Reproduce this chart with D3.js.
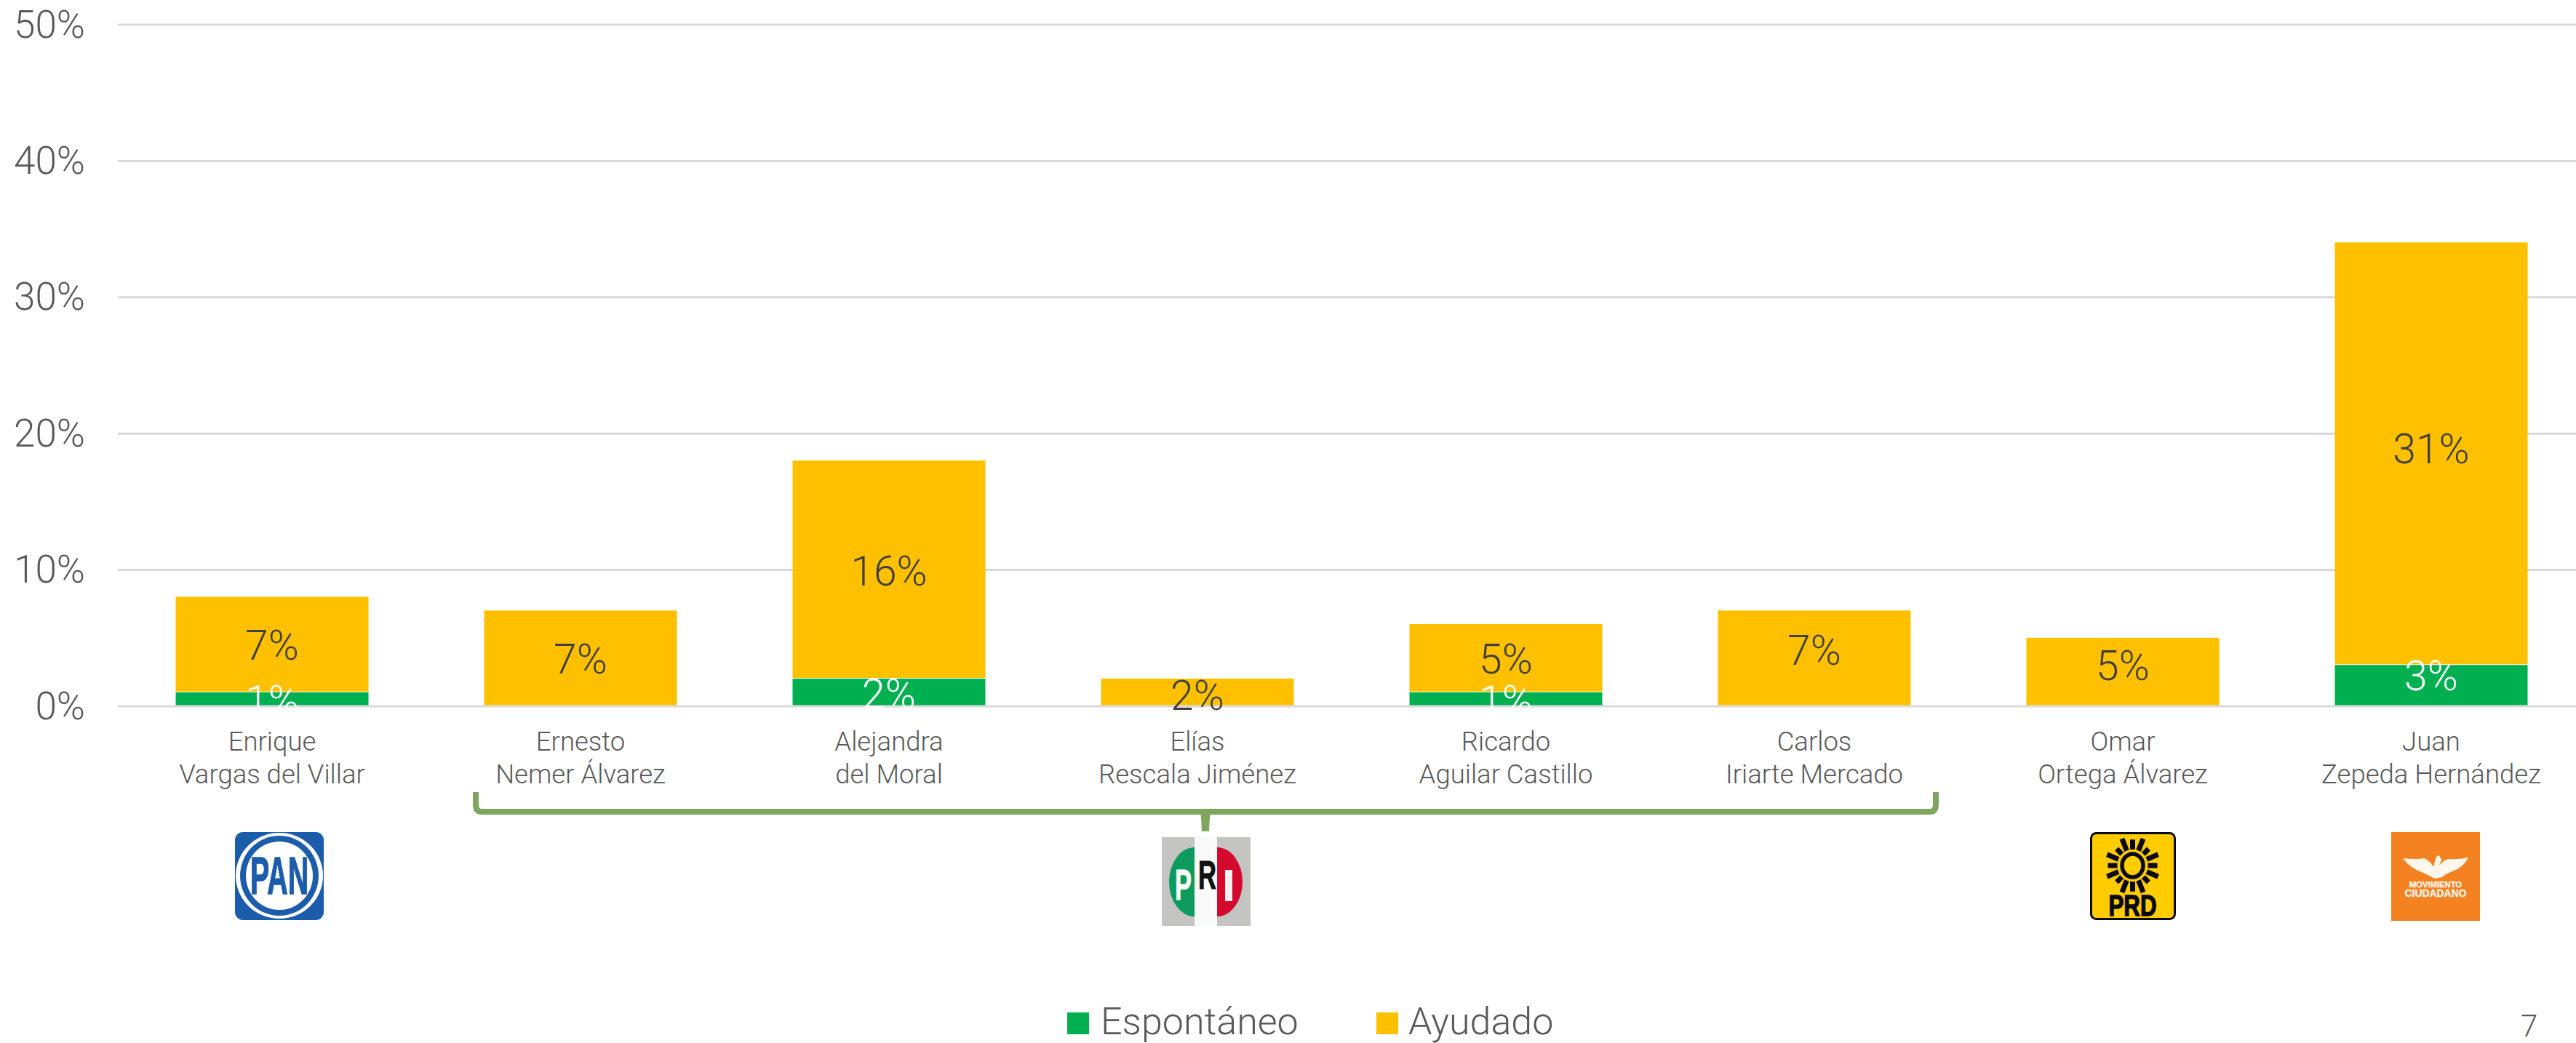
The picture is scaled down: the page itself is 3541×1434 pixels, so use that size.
<!DOCTYPE html>
<html><head><meta charset="utf-8">
<script src="https://cdn.jsdelivr.net/npm/d3@7/dist/d3.min.js"></script>
<style>
html,body{margin:0;padding:0;background:#fff;overflow:hidden}
svg{display:block}
text{font-family:Roboto,"Liberation Sans",sans-serif;font-weight:300}
</style></head><body>
<svg id="c" width="3541" height="1434"></svg>
<script>
const categories=[["Enrique","Vargas del Villar"],["Ernesto","Nemer Álvarez"],["Alejandra","del Moral"],["Elías","Rescala Jiménez"],["Ricardo","Aguilar Castillo"],["Carlos","Iriarte Mercado"],["Omar","Ortega Álvarez"],["Juan","Zepeda Hernández"]];
const espontaneo=[1,0,2,0,1,0,0,3];
const ayudado=[7,7,16,2,5,7,5,31];
const yTicks=[0,10,20,30,40,50];
const seriesNames=["Espontáneo","Ayudado"];
const seriesColors=["#00B050","#FFC000"];
const pageNumber="7";
// manual label nudges seen in the reference (pixels), per series and category
const nudgeEsp=[1,0,2,0,1,0,0,-14];
const nudgeAyu=[0,1,1,4,1,-11,-9,-7];

const svg=d3.select("#c");
const W=3541,H=1434,L=162,T=33.5,B=970.5,STEP=424;
const x=d3.scaleBand().domain(d3.range(categories.length)).range([L,L+STEP*categories.length]).paddingInner(0.375).paddingOuter(0.1875);
const y=d3.scaleLinear().domain([0,50]).range([B,T]);

const ya=svg.append("g").attr("transform",`translate(${L},0)`)
 .call(d3.axisLeft(y).tickValues(yTicks).tickFormat(d=>d+"%").tickSize(-(W-L)).tickPadding(45));
ya.select(".domain").remove();
ya.selectAll("line").attr("stroke","#D9D9D9").attr("stroke-width",3);
ya.selectAll("text").attr("font-size",53).attr("fill","#595959").attr("dy",".33em");

const rows=categories.map((c,i)=>({i,e:espontaneo[i],a:ayudado[i]}));
const stack=d3.stack().keys(["e","a"])(rows);
const barG=svg.append("g");
stack.forEach((s,k)=>{
  barG.selectAll(null).data(s).join("rect")
   .attr("x",d=>x(d.data.i)).attr("width",x.bandwidth())
   .attr("y",d=>y(d[1])).attr("height",d=>y(d[0])-y(d[1])-1)
   .attr("fill",seriesColors[k]);
});
const labG=svg.append("g");
stack.forEach((s,k)=>{
  const nudge=k==0?nudgeEsp:nudgeAyu;
  labG.selectAll(null).data(s.filter(d=>d[1]-d[0]>0)).join("text")
   .attr("x",d=>x(d.data.i)+x.bandwidth()/2)
   .attr("y",d=>y((d[0]+d[1])/2)+nudge[d.data.i])
   .attr("dy",".36em").attr("text-anchor","middle").attr("font-size",57)
   .attr("fill",k==0?"#FFFFFF":"#404040")
   .text(d=>(d[1]-d[0])+"%");
});

const xa=svg.append("g").attr("transform",`translate(0,${B})`)
 .call(d3.axisBottom(x).tickSize(0).tickFormat(""));
xa.select(".domain").remove();
xa.selectAll(".tick text").remove();
xa.selectAll(".tick").data(categories).each(function(d){
  const t=d3.select(this).append("text").attr("text-anchor","middle").attr("font-size",36.5).attr("fill","#595959");
  t.append("tspan").attr("x",0).attr("y",61).text(d[0]);
  t.append("tspan").attr("x",0).attr("y",106).text(d[1]);
});

const bc="#7FA65F";
const bl=654,br=2661,bm=1657;
svg.append("path").attr("fill","none").attr("stroke",bc).attr("stroke-width",8)
 .attr("d",`M${bl},1089 V1106 Q${bl},1116 ${bl+8},1116 H${br-8} Q${br},1116 ${br},1106 V1089`);
svg.append("path").attr("fill",bc).attr("d",`M${bm-7},1118 Q${bm-6},1120 ${bm-5},1143 H${bm+5} Q${bm+6},1120 ${bm+7},1118 Z`);

const bold=(s)=>`font-family:'Liberation Sans';font-weight:700;font-size:${s}px`;
function pan(g){
 g.append("rect").attr("width",122).attr("height",121).attr("rx",11).attr("fill","#1C5DAB");
 g.append("ellipse").attr("cx",61).attr("cy",60).attr("rx",60).attr("ry",59).attr("fill","#fff");
 g.append("ellipse").attr("cx",61).attr("cy",60).attr("rx",54).attr("ry",55).attr("fill","#1C5DAB");
 g.append("ellipse").attr("cx",61).attr("cy",60).attr("rx",46).attr("ry",47).attr("fill","#fff");
 g.append("text").attr("x",61).attr("y",85).attr("text-anchor","middle").attr("textLength",80).attr("lengthAdjust","spacingAndGlyphs")
  .attr("style",bold(72)).attr("fill","#1C5DAB").attr("stroke","#1C5DAB").attr("stroke-width",1.5).text("PAN");
}
function pri(g){
 g.append("rect").attr("width",122).attr("height",122).attr("fill","#C4C5C2");
 g.append("path").attr("d","M45,14 A35,47.5 0 0 0 45,109 Z").attr("fill","#0E9A5E");
 g.append("path").attr("d","M76,14 A35,47.5 0 0 1 76,109 Z").attr("fill","#D5092E");
 g.append("rect").attr("x",45).attr("width",31).attr("height",122).attr("fill","#F8FBFA");
 g.append("text").attr("x",29.5).attr("y",86).attr("text-anchor","middle").attr("textLength",23).attr("lengthAdjust","spacingAndGlyphs").attr("style",bold(60)).attr("fill","#F6FBF6").attr("stroke","#F6FBF6").text("P");
 g.append("text").attr("x",62.5).attr("y",71).attr("text-anchor","middle").attr("textLength",25).attr("lengthAdjust","spacingAndGlyphs").attr("style",bold(56)).attr("fill","#111").attr("stroke","#111").text("R");
 g.append("rect").attr("x",87).attr("y",45).attr("width",10).attr("height",43).attr("fill","#F9EFEF");
}
function prd(g){
 g.append("rect").attr("x",1.5).attr("y",1.5).attr("width",115).attr("height",118).attr("rx",7).attr("fill","#FFCC00").attr("stroke","#0A0A0A").attr("stroke-width",3);
 g.append("ellipse").attr("cx",58.5).attr("cy",46).attr("rx",14.5).attr("ry",16).attr("fill","none").attr("stroke","#0A0A0A").attr("stroke-width",5.5);
 d3.range(16).forEach(i=>{
  const a=i*Math.PI/8;
  const r0=21, r1=(i%2==0)?(i%4==0?34:31):38;
  g.append("line").attr("x1",58.5+Math.sin(a)*r0).attr("y1",46-Math.cos(a)*r0*1.05)
   .attr("x2",58.5+Math.sin(a)*r1).attr("y2",46-Math.cos(a)*r1*1.05)
   .attr("stroke","#0A0A0A").attr("stroke-width",7);
 });
 g.append("text").attr("x",58.5).attr("y",115).attr("text-anchor","middle").attr("textLength",66).attr("lengthAdjust","spacingAndGlyphs")
  .attr("style",bold(40)).attr("fill","#0A0A0A").attr("stroke","#0A0A0A").attr("stroke-width",1.5).text("PRD");
}
function mc(g){
 g.append("rect").attr("width",122).attr("height",122).attr("fill","#F58220");
 g.append("path").attr("fill","#FFF6EC").attr("d","M16,36 Q34,38 46,36 Q54,40 58,48 Q60,40 62,34 L66,32 L69,38 L66,46 Q70,40 78,37 Q92,38 106,35 Q98,50 84,54 Q74,58 70,62 L60,64 Q52,60 44,56 Q26,50 16,36 Z");
 g.append("text").attr("x",61).attr("y",75.5).attr("text-anchor","middle").attr("textLength",72).attr("lengthAdjust","spacingAndGlyphs")
  .attr("style",bold(10)).attr("fill","#FFF6EC").attr("stroke","#FFF6EC").attr("stroke-width",.3).text("MOVIMIENTO");
 g.append("text").attr("x",61).attr("y",88.5).attr("text-anchor","middle").attr("textLength",85).attr("lengthAdjust","spacingAndGlyphs")
  .attr("style",bold(14)).attr("fill","#FFF6EC").attr("stroke","#FFF6EC").attr("stroke-width",.3).text("CIUDADANO");
}
pan(svg.append("g").attr("transform","translate(323,1144)"));
pri(svg.append("g").attr("transform","translate(1597,1151)"));
prd(svg.append("g").attr("transform","translate(2873,1144)"));
mc(svg.append("g").attr("transform","translate(3287,1144)"));

const lg=svg.append("g");
[[1467,1513],[1892,1936]].forEach((p,i)=>{
  lg.append("rect").attr("x",p[0]).attr("y",1392).attr("width",30).attr("height",30).attr("fill",seriesColors[i]);
  lg.append("text").attr("x",p[1]).attr("y",1422).attr("font-size",52).attr("fill","#595959").text(seriesNames[i]);
});
svg.append("text").attr("x",3465).attr("y",1425).attr("font-size",42).attr("fill","#595959").text(pageNumber);
</script></body></html>
